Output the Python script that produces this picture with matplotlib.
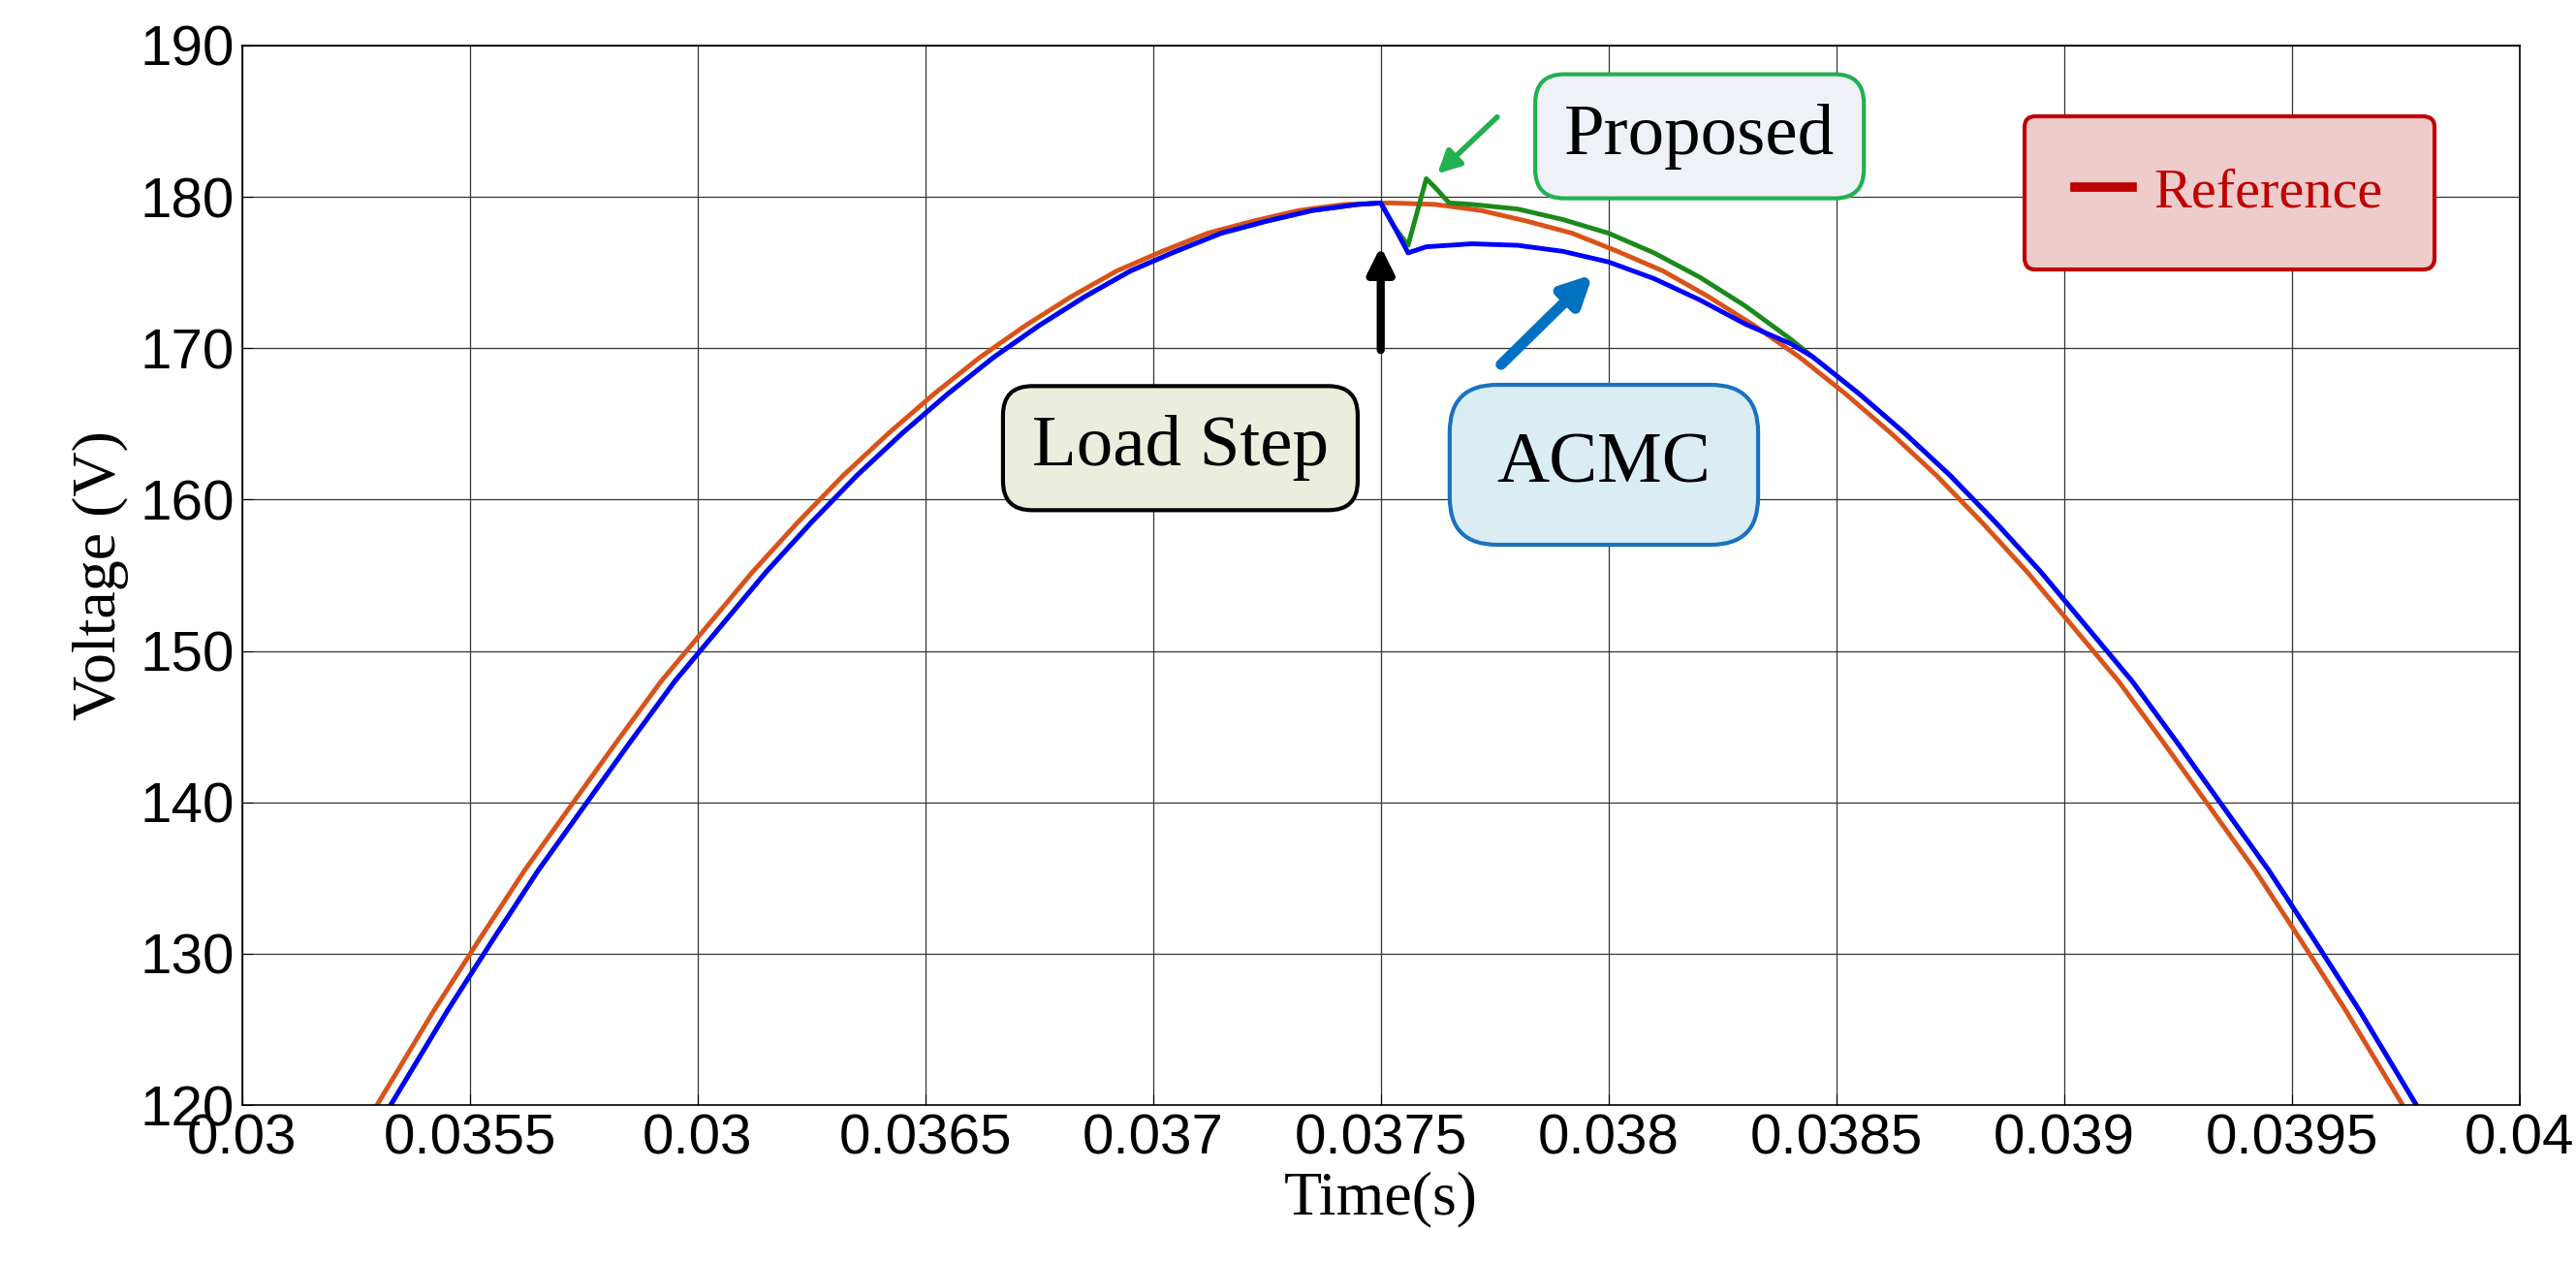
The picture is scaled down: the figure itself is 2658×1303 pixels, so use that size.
import matplotlib
matplotlib.use("Agg")
import matplotlib.pyplot as plt
from matplotlib.lines import Line2D

# Reference (orange): time offsets (ms) from peak at 0.03752 s and voltages
ref_dt_ms = [-2.25, -2.2, -2.1, -2.0, -1.9, -1.8, -1.7, -1.6, -1.5, -1.4, -1.3, -1.2, -1.1, -1.0, -0.9, -0.8, -0.7,
             -0.6, -0.5, -0.4, -0.3, -0.2, -0.1, 0.0, 0.1, 0.2, 0.3, 0.4, 0.5, 0.6, 0.7, 0.8, 0.9, 1.0, 1.1, 1.2,
             1.3, 1.4, 1.5, 1.6, 1.7, 1.8, 1.9, 2.0, 2.1, 2.2, 2.25]
ref_v = [118.7, 121.2, 126.2, 130.9, 135.5, 139.7, 143.9, 148.0, 151.6, 155.2, 158.5, 161.6, 164.4, 167.0, 169.4,
         171.5, 173.4, 175.1, 176.4, 177.6, 178.4, 179.1, 179.5, 179.6, 179.5, 179.1, 178.4, 177.6, 176.4, 175.1,
         173.4, 171.5, 169.4, 167.0, 164.4, 161.6, 158.5, 155.2, 151.6, 148.0, 143.9, 139.7, 135.5, 130.9, 126.2,
         121.2, 118.7]
ref_peak = 0.03752
lag = 0.00003

# Transient portions (ACMC blue, Proposed green)
blue_step_t = [0.03750, 0.03753, 0.03756, 0.03760, 0.03770, 0.03780, 0.03790, 0.03800, 0.03810, 0.03820, 0.03830, 0.03840]
blue_step_v = [179.6, 178.0, 176.3, 176.7, 176.9, 176.8, 176.4, 175.7, 174.6, 173.2, 171.6, 170.3]
green_step_t = [0.03750, 0.03753, 0.03756, 0.03758, 0.03760, 0.03762, 0.03765, 0.03770, 0.03780, 0.03790, 0.03800,
                0.03810, 0.03820, 0.03830, 0.03840]
green_step_v = [179.6, 178.0, 176.8, 179.0, 181.2, 180.6, 179.6, 179.5, 179.2, 178.5, 177.6, 176.3, 174.7, 172.8, 170.6]

xticks = [0.035, 0.0355, 0.036, 0.0365, 0.037, 0.0375, 0.038, 0.0385, 0.039, 0.0395, 0.04]
xticklabels = ["0.03", "0.0355", "0.03", "0.0365", "0.037", "0.0375", "0.038", "0.0385", "0.039", "0.0395", "0.04"]
yticks = [120, 130, 140, 150, 160, 170, 180, 190]

ref_t = [ref_peak + d / 1000 for d in ref_dt_ms]
lag_t = [t + lag for t in ref_t]
pre = [(t, v) for t, v in zip(lag_t, ref_v) if t < 0.03750]
post = [(t, v) for t, v in zip(lag_t, ref_v) if t > 0.03841]
blue_t = [p[0] for p in pre] + blue_step_t + [p[0] for p in post]
blue_v = [p[1] for p in pre] + blue_step_v + [p[1] for p in post]
green_t = [p[0] for p in pre] + green_step_t + [p[0] for p in post]
green_v = [p[1] for p in pre] + green_step_v + [p[1] for p in post]

serif = "Liberation Serif"
fig = plt.figure(figsize=(26.58, 13.03), dpi=100)
ax = fig.add_axes([0.094, 0.125, 0.884, 0.839])
ax.plot(ref_t, ref_v, color="#D95319", lw=3.5)
ax.plot(green_t, green_v, color="#1a8a1a", lw=3.5)
ax.plot(blue_t, blue_v, color="#0000FF", lw=3.5)
ax.set_xlim(0.035, 0.04)
ax.set_ylim(120, 190)
ax.set_xticks(xticks)
ax.set_xticklabels(xticklabels, fontfamily="Liberation Sans", fontsize=42)
ax.set_yticks(yticks)
ax.set_yticklabels([str(v) for v in yticks], fontfamily="Liberation Sans", fontsize=42)
ax.grid(True, color="#333333", lw=0.9)
ax.tick_params(direction="in", length=8, pad=6)
for s in ax.spines.values():
    s.set_linewidth(1.2)
ax.set_xlabel("Time(s)", fontfamily=serif, fontsize=46, labelpad=4)
ax.set_ylabel("Voltage (V)", fontfamily=serif, fontsize=46, labelpad=8)

ax.text(0.0382, 184, "Proposed", fontfamily=serif, fontsize=54, ha="center", va="center",
        bbox=dict(boxstyle="round,pad=0.4", fc="#EEF2F7", ec="#22B050", lw=3))
ax.annotate("", xy=(0.03762, 181.4), xytext=(0.03776, 185.4),
            arrowprops=dict(arrowstyle="-|>", color="#22B050", lw=4, mutation_scale=35))
ax.text(0.03706, 163.4, "Load Step", fontfamily=serif, fontsize=54, ha="center", va="center",
        bbox=dict(boxstyle="round,pad=0.4", fc="#EBEEDD", ec="black", lw=3))
ax.annotate("", xy=(0.0375, 176.9), xytext=(0.0375, 169.7),
            arrowprops=dict(arrowstyle="-|>", color="black", lw=6, mutation_scale=40))
ax.text(0.03799, 162.3, "ACMC", fontfamily=serif, fontsize=54, ha="center", va="center",
        bbox=dict(boxstyle="round,pad=0.65", fc="#DAEDF3", ec="#1a72c0", lw=3))
ax.annotate("", xy=(0.03797, 175.0), xytext=(0.03776, 168.8),
            arrowprops=dict(arrowstyle="-|>", color="#0070C0", lw=8, mutation_scale=45))

leg = ax.legend([Line2D([0], [0], color="#C00000", lw=7)], ["Reference"], loc="upper right",
                bbox_to_anchor=(0.975, 0.96), prop={"family": serif, "size": 42},
                fancybox=True, framealpha=1, handlelength=1.0, handletextpad=0.4, borderpad=0.9)
leg.get_frame().set_facecolor("#EFCCCC")
leg.get_frame().set_edgecolor("#C00000")
leg.get_frame().set_linewidth(3)
for t in leg.get_texts():
    t.set_color("#C00000")

fig.savefig("out.png", dpi=100)
